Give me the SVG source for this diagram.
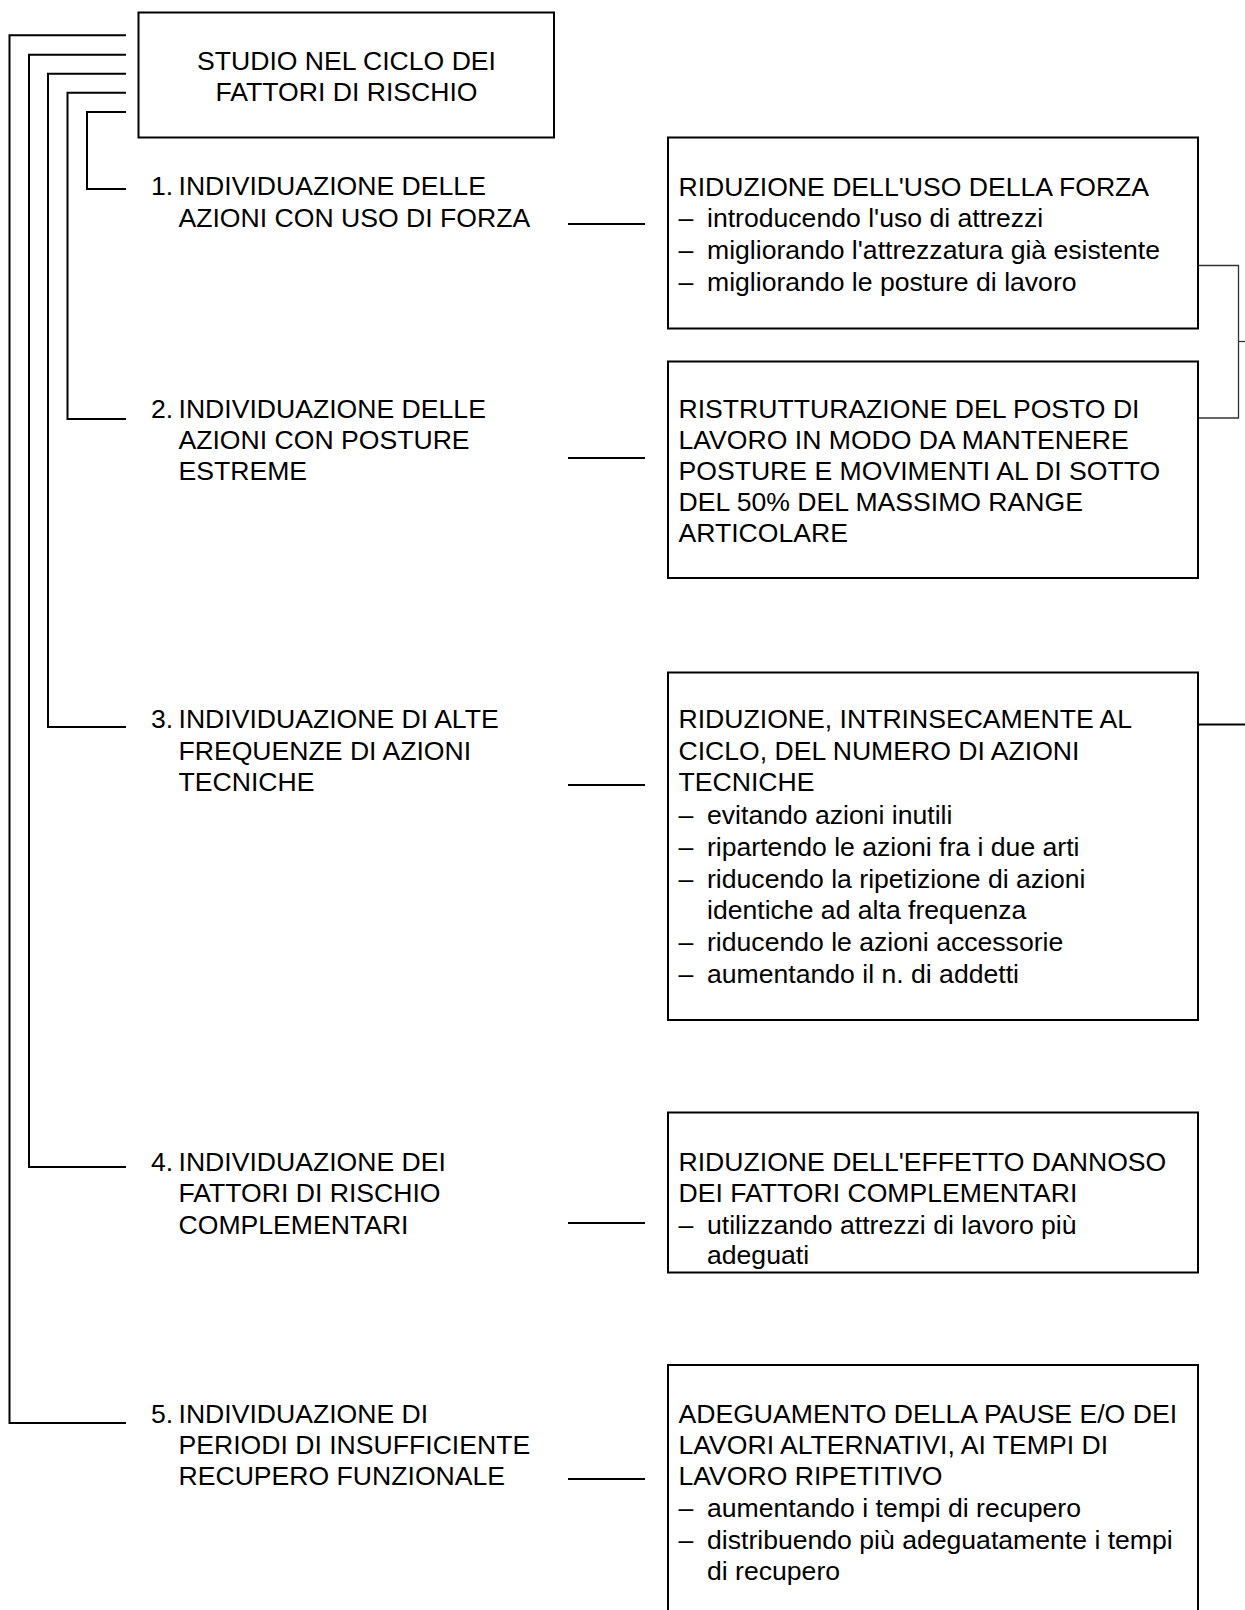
<svg xmlns="http://www.w3.org/2000/svg" width="1245" height="1610" viewBox="0 0 1245 1610">
<style>
.box{fill:#fff;stroke:#000;stroke-width:2}
.ln{fill:none;stroke:#000;stroke-width:2}
.thin{fill:none;stroke:#333;stroke-width:1.3}
text{font-family:"Liberation Sans",Arial,sans-serif;font-size:26.6px;fill:#000}
.c{text-anchor:middle}
</style>
<rect width="1245" height="1610" fill="#fff"/>
<g id="connectors">
<path class="ln" d="M126,35.3H9.5V1423H126"/>
<path class="ln" d="M126,54.7H29V1167H126"/>
<path class="ln" d="M126,73.7H48V727H126"/>
<path class="ln" d="M126,92.7H67.5V419H126"/>
<path class="ln" d="M126,112H87V189H126"/>
<path class="ln" d="M568,224H645"/>
<path class="ln" d="M568,458H645"/>
<path class="ln" d="M568,785H645"/>
<path class="ln" d="M568,1223H645"/>
<path class="ln" d="M568,1479H645"/>
<path class="thin" d="M1199,265.5H1238.5V418H1199"/>
<path class="thin" d="M1238.5,341.5H1245"/>
<path class="ln" d="M1199,724.5H1245"/>
</g>
<g id="title">
<rect class="box" x="138.5" y="12.5" width="415.5" height="125"/>
<text class="c" x="346.5" y="70">STUDIO NEL CICLO DEI</text>
<text class="c" x="346.5" y="101">FATTORI DI RISCHIO</text>
</g>
<g id="item1">
<text x="151" y="195">1.</text>
<text x="178.5" y="195">INDIVIDUAZIONE DELLE</text>
<text x="178.5" y="226.5">AZIONI CON USO DI FORZA</text>
</g>
<g id="item2">
<text x="151" y="417.5">2.</text>
<text x="178.5" y="417.5">INDIVIDUAZIONE DELLE</text>
<text x="178.5" y="449">AZIONI CON POSTURE</text>
<text x="178.5" y="480">ESTREME</text>
</g>
<g id="item3">
<text x="151" y="728">3.</text>
<text x="178.5" y="728">INDIVIDUAZIONE DI ALTE</text>
<text x="178.5" y="760">FREQUENZE DI AZIONI</text>
<text x="178.5" y="791">TECNICHE</text>
</g>
<g id="item4">
<text x="151" y="1170.5">4.</text>
<text x="178.5" y="1170.5">INDIVIDUAZIONE DEI</text>
<text x="178.5" y="1202">FATTORI DI RISCHIO</text>
<text x="178.5" y="1233.5">COMPLEMENTARI</text>
</g>
<g id="item5">
<text x="151" y="1423">5.</text>
<text x="178.5" y="1423">INDIVIDUAZIONE DI</text>
<text x="178.5" y="1454">PERIODI DI INSUFFICIENTE</text>
<text x="178.5" y="1485">RECUPERO FUNZIONALE</text>
</g>
<g id="box1">
<rect class="box" x="668" y="137.5" width="530" height="191"/>
<text x="678.5" y="195.5">RIDUZIONE DELL'USO DELLA FORZA</text>
<text x="678.5" y="227">–</text><text x="707" y="227">introducendo l'uso di attrezzi</text>
<text x="678.5" y="259">–</text><text x="707" y="259">migliorando l'attrezzatura già esistente</text>
<text x="678.5" y="291">–</text><text x="707" y="291">migliorando le posture di lavoro</text>
</g>
<g id="box2">
<rect class="box" x="668" y="361.5" width="530" height="216.5"/>
<text x="678.5" y="417.5">RISTRUTTURAZIONE DEL POSTO DI</text>
<text x="678.5" y="449">LAVORO IN MODO DA MANTENERE</text>
<text x="678.5" y="480">POSTURE E MOVIMENTI AL DI SOTTO</text>
<text x="678.5" y="511">DEL 50% DEL MASSIMO RANGE</text>
<text x="678.5" y="541.5">ARTICOLARE</text>
</g>
<g id="box3">
<rect class="box" x="668" y="672.5" width="530" height="347.5"/>
<text x="678.5" y="728">RIDUZIONE, INTRINSECAMENTE AL</text>
<text x="678.5" y="760">CICLO, DEL NUMERO DI AZIONI</text>
<text x="678.5" y="791">TECNICHE</text>
<text x="678.5" y="823.5">–</text><text x="707" y="823.5">evitando azioni inutili</text>
<text x="678.5" y="856">–</text><text x="707" y="856">ripartendo le azioni fra i due arti</text>
<text x="678.5" y="888">–</text><text x="707" y="888">riducendo la ripetizione di azioni</text>
<text x="707" y="919">identiche ad alta frequenza</text>
<text x="678.5" y="951">–</text><text x="707" y="951">riducendo le azioni accessorie</text>
<text x="678.5" y="983">–</text><text x="707" y="983">aumentando il n. di addetti</text>
</g>
<g id="box4">
<rect class="box" x="668" y="1112.5" width="530" height="160"/>
<text x="678.5" y="1170.5">RIDUZIONE DELL'EFFETTO DANNOSO</text>
<text x="678.5" y="1202">DEI FATTORI COMPLEMENTARI</text>
<text x="678.5" y="1233.5">–</text><text x="707" y="1233.5">utilizzando attrezzi di lavoro più</text>
<text x="707" y="1264">adeguati</text>
</g>
<g id="box5">
<rect class="box" x="668" y="1365" width="530" height="260"/>
<text x="678.5" y="1423">ADEGUAMENTO DELLA PAUSE E/O DEI</text>
<text x="678.5" y="1454">LAVORI ALTERNATIVI, AI TEMPI DI</text>
<text x="678.5" y="1485">LAVORO RIPETITIVO</text>
<text x="678.5" y="1516.5">–</text><text x="707" y="1516.5">aumentando i tempi di recupero</text>
<text x="678.5" y="1549">–</text><text x="707" y="1549">distribuendo più adeguatamente i tempi</text>
<text x="707" y="1580">di recupero</text>
</g>
</svg>
